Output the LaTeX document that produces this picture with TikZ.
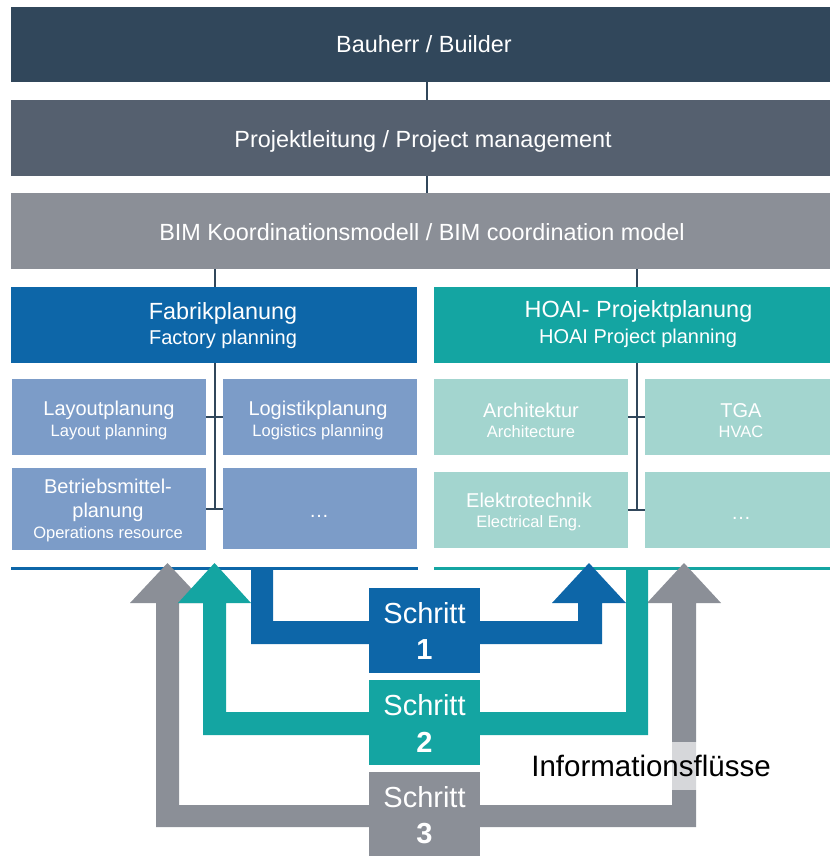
\documentclass[tikz,border=0pt]{standalone}
\usepackage{fontspec}
\setmainfont{Liberation Sans}
\definecolor{navy}{RGB}{49,71,91}
\definecolor{slate}{RGB}{85,96,111}
\definecolor{midgray}{RGB}{139,143,151}
\definecolor{fblue}{RGB}{13,102,168}
\definecolor{hteal}{RGB}{20,165,162}
\definecolor{lblue}{RGB}{124,156,200}
\definecolor{lteal}{RGB}{163,213,207}
\begin{document}
\begin{tikzpicture}[x=1pt,y=-1pt,
  panel/.style={anchor=north west, inner sep=0pt, outer sep=0pt},
  lbl/.style={anchor=base, inner sep=0pt, text=white},
  hd/.style={lbl, font=\fontsize{23.4}{28}\selectfont},
  subtxt/.style={lbl, font=\fontsize{20}{24}\selectfont},
  smalltxt/.style={lbl, font=\fontsize{16.5}{20}\selectfont},
  link/.style={draw=navy, line width=2pt},
  stepbox/.style={panel, minimum width=111pt},
  steptext/.style={lbl, font=\fontsize{29}{34}\selectfont},
  stepnum/.style={lbl, font=\fontsize{29}{34}\selectfont\bfseries},
]
\useasboundingbox (0,0) rectangle (830,856);

% top hierarchy
\node[panel, fill=navy, minimum width=819pt, minimum height=75pt] (builder) at (11,7) {};
\node[panel, fill=slate, minimum width=819pt, minimum height=76pt] (pm) at (11,100) {};
\node[panel, fill=midgray, minimum width=819pt, minimum height=76pt] (bim) at (11,193) {};
\node[panel, fill=fblue, minimum width=406pt, minimum height=76pt] (fab) at (11,287) {};
\node[panel, fill=hteal, minimum width=396pt, minimum height=76pt] (hoai) at (434,287) {};

% factory planning disciplines
\node[panel, fill=lblue, minimum width=194pt, minimum height=76pt] (lay) at (12,379) {};
\node[panel, fill=lblue, minimum width=194pt, minimum height=76pt] (log) at (223,379) {};
\node[panel, fill=lblue, minimum width=194pt, minimum height=82pt] (bm) at (12,468) {};
\node[panel, fill=lblue, minimum width=194pt, minimum height=81pt] (ldots) at (223,468) {};

% HOAI disciplines
\node[panel, fill=lteal, minimum width=194pt, minimum height=76pt] (arch) at (434,379) {};
\node[panel, fill=lteal, minimum width=185pt, minimum height=76pt] (tga) at (645,379) {};
\node[panel, fill=lteal, minimum width=194pt, minimum height=76pt] (elek) at (434,472) {};
\node[panel, fill=lteal, minimum width=185pt, minimum height=76pt] (rdots) at (645,472) {};

% connectors
\coordinate (cx) at (427,0);
\coordinate (lx) at (215,0);
\coordinate (rx) at (637,0);
\draw[link] (builder.south -| cx) -- (pm.north -| cx);
\draw[link] (pm.south -| cx) -- (bim.north -| cx);
\draw[link] (bim.south -| lx) -- (fab.north -| lx);
\draw[link] (bim.south -| rx) -- (hoai.north -| rx);
\draw[link] (fab.south -| lx) -- (lx |- bm.east);
\draw[link] (lay.east) -- (log.west);
\draw[link] (bm.east) -- (ldots.west |- bm.east);
\draw[link] (hoai.south -| rx) -- (rx |- elek.east);
\draw[link] (arch.east) -- (tga.west);
\draw[link] (elek.east) -- (rdots.west);

% baselines of the two planning groups
\node[panel, fill=fblue, minimum width=407pt, minimum height=3pt] (lbar) at (11,566.5) {};
\node[panel, fill=hteal, minimum width=396pt, minimum height=3pt] (rbar) at (434,566.5) {};

% information flows
\fill[midgray] (156,603) -- (130,603) -- (167.5,563) -- (205,603) -- (179,603)
  -- (179,805) -- (672,805) -- (672,603) -- (647,603) -- (684,563) -- (721,603)
  -- (696,603) -- (696,827) -- (156,827) -- cycle;
\fill[hteal] (648,567) -- (648,735) -- (203,735) -- (203,603) -- (178,603)
  -- (214.5,563) -- (251,603) -- (226,603) -- (226,712) -- (626,712) -- (626,567) -- cycle;
\fill[fblue] (251,567) -- (251,644) -- (602,644) -- (602,603) -- (626,603)
  -- (589,563) -- (552,603) -- (578,603) -- (578,621) -- (273,621) -- (273,567) -- cycle;

% steps
\node[stepbox, fill=fblue, minimum height=85pt] (s1) at (369,588) {};
\node[stepbox, fill=hteal, minimum height=85pt] (s2) at (369,680) {};
\node[stepbox, fill=midgray, minimum height=84pt] (s3) at (369,772) {};

% labels
\node[hd] (tb) at (424,53) {Bauherr / Builder};
\node[hd] (tp) at (423,147) {Projektleitung / Project management};
\node[hd] (tbim) at (422,240) {BIM Koordinationsmodell / BIM coordination model};
\node[hd] (tfab1) at (223,319) {Fabrikplanung};
\node[subtxt] (tfab2) at (223,344) {Factory planning};
\node[hd] (thoai1) at (638.5,317) {HOAI- Projektplanung};
\node[subtxt] (thoai2) at (638,343) {HOAI Project planning};

\node[subtxt] (tlay1) at (109,415) {Layoutplanung};
\node[smalltxt] (tlay2) at (109,436) {Layout planning};
\node[subtxt] (tlog1) at (318,415) {Logistikplanung};
\node[smalltxt] (tlog2) at (318,436) {Logistics planning};
\node[subtxt] (tbm1) at (108,493) {Betriebsmittel-};
\node[subtxt] (tbm2) at (108,517) {planung};
\node[smalltxt] (tbm3) at (108,538) {Operations resource};
\node[subtxt] (tld) at (319,517) {…};

\node[subtxt] (tar1) at (531,417) {Architektur};
\node[smalltxt] (tar2) at (531,437) {Architecture};
\node[subtxt] (ttga1) at (741,417) {TGA};
\node[smalltxt] (ttga2) at (741,437) {HVAC};
\node[subtxt] (tel1) at (529,507) {Elektrotechnik};
\node[smalltxt] (tel2) at (529,527) {Electrical Eng.};
\node[subtxt] (trd) at (741,519) {…};

\node[steptext] (ts1) at (424.5,623) {Schritt};
\node[stepnum] (tn1) at (424.5,659) {1};
\node[steptext] (ts2) at (424.5,715) {Schritt};
\node[stepnum] (tn2) at (424.5,752) {2};
\node[steptext] (ts3) at (424.5,807) {Schritt};
\node[stepnum] (tn3) at (424.5,843) {3};

\node[font=\fontsize{29.5}{34}\selectfont, text=black, fill=white, fill opacity=0.65,
  text opacity=1, inner xsep=2pt, inner ysep=0pt, minimum height=48pt] (info) at (651,766) {Informationsflüsse};
\end{tikzpicture}
\end{document}
